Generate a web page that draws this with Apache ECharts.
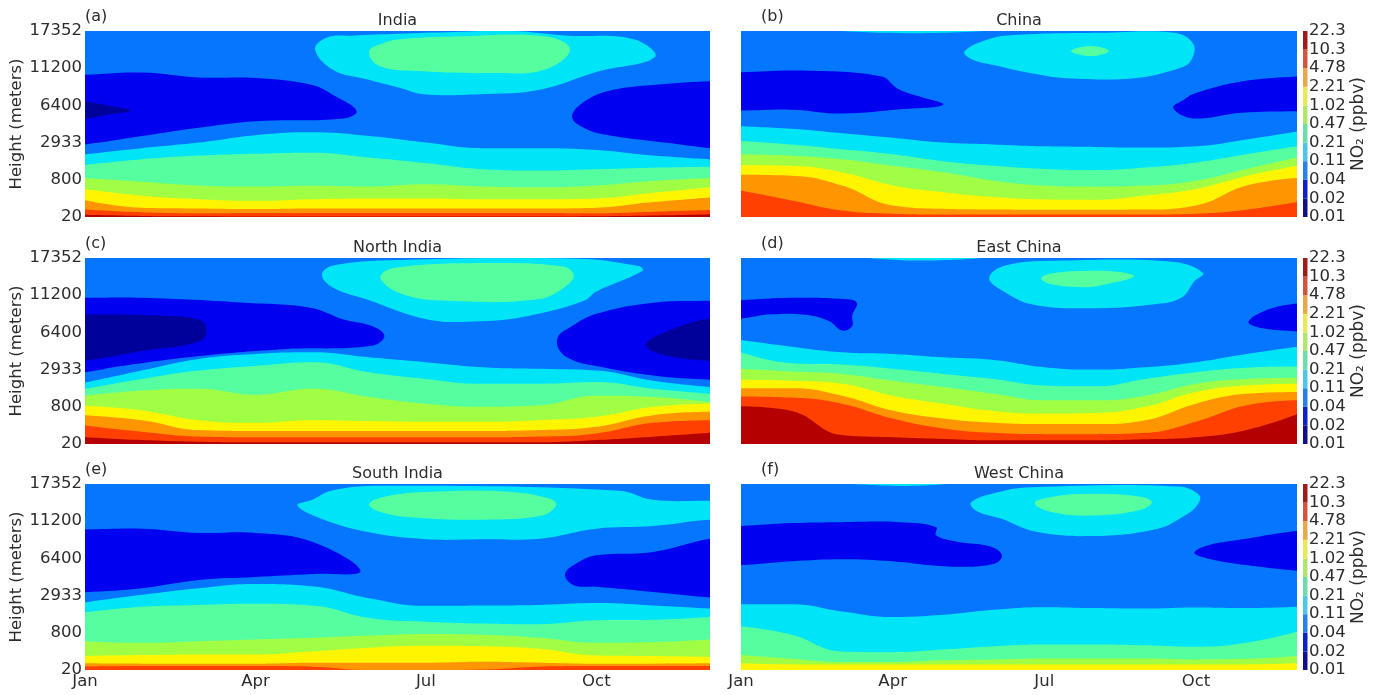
<!DOCTYPE html>
<html><head><meta charset="utf-8">
<style>html,body{margin:0;padding:0;background:#fff}#c{width:1381px;height:695px}</style>
<script src="https://cdn.jsdelivr.net/npm/echarts@6/dist/echarts.min.js"></script>
</head><body><div id="c"></div>
<script>
// NO2 level bands (ppbv): index 0 is the lowest band
const colorbarTicks=['0.01','0.02','0.04','0.11','0.21','0.47','1.02','2.21','4.78','10.3','22.3'];
const heightTicks=['20','800','2933','6400','11200','17352'];
const monthTicks=['Jan','Apr','Jul','Oct'];
const levelColors=['#00009a','#0000f0','#0476ff','#00e4f8','#55ffa0','#a0ff45','#fff500','#ff9500','#ff4000','#b40000'];
const barColors=['#10108c','#1020c8','#2a80e6','#4cc8e4','#6edcaa','#b4e470','#e8e85c','#e6a84c','#d25440','#a01c1c'];
const NAVY=0,DEEP=1,BLUE=2,CYAN=3,MINT=4,LIME=5,YELL=6,ORNG=7,RED=8,DARK=9;
// Band edges: [level, top of band at each month Jan..Dec], in percent of the level axis
const indiaBands=[
[CYAN,[33.7,37,40,44,45.5,43.5,40,37,37,36,33,31]],
[MINT,[28,31,33,34,34.6,32,29,25.7,25,25.7,26.5,27]],
[LIME,[21,19,17,16.4,16.8,16.4,17.6,16.4,16,17,19.4,21]],
[YELL,[15,11.4,9.6,8.7,9.6,10,10,9.6,9.6,10,13,16]],
[ORNG,[9,5,4.6,4.3,4.6,4.6,4.6,4.6,4.6,5,8,10.5]],
[RED,[4,2.5,2,2.2,2.2,2.2,2.2,2.2,2.2,2,2.8,3.7]],
[DARK,[1.2,.6,.4,.3,.3,.3,.3,.3,.3,.4,.8,1.5]]];
const chinaBands=[
[CYAN,[48.8,47.4,45,42.6,40,39,38,37.7,37.3,38,41.7,46]],
[MINT,[40.9,39,36.4,33.7,30,27.5,25.8,25.2,26.6,29.3,33.7,38]],
[LIME,[33.7,32.9,31,27.5,24,19.5,16.9,16.3,16.9,19.5,25.8,32]],
[YELL,[28,27.5,24,16.9,13.3,10.7,9.4,9.2,11.5,15,22,27.5]],
[ORNG,[22.7,22.2,16.9,6.2,4.4,4,3.9,3.9,4,6.2,16.9,21]],
[RED,[14.2,8.9,3.5,1.8,1.4,1.4,1.4,1.4,1.4,1.8,3.9,8]]];
const northIndiaBands=[
[CYAN,[33,39.5,45.7,48.4,49.3,46.6,44,41.3,40.4,39.5,34,30.6]],
[MINT,[29.7,35,39.5,42,44,38.6,35,32.4,32.4,33.3,29.7,27]],
[LIME,[26,28.8,29.7,26.5,29.7,25.3,21.7,20,20.8,26,25.3,22.6]],
[YELL,[20.5,18,12.8,11.4,12.8,12.3,11.9,11.9,12.8,14.6,20,21.7]],
[ORNG,[15.5,12.8,7.5,7,7,7,7,7,7.5,9.3,15.5,17.3]],
[RED,[10,6.6,4,3.6,3.6,3.6,3.6,3.6,4,5.7,11.4,12.8]],
[DARK,[3.6,2.1,1.2,.9,.9,.9,.9,.9,.9,2.1,3.9,6]]];
const eastChinaBands=[
[CYAN,[55.9,52.3,49.3,48.4,46.6,45.2,41.3,40,41.3,44,48.4,52.3]],
[MINT,[49.3,43.4,42.7,40.4,37.7,35,31.5,31,35,38.6,41,41.6]],
[LIME,[40.4,39,37.7,34,30.6,27,23.5,23.5,26,32.4,35,35.6]],
[YELL,[34.5,34,32.4,26,21.7,17.8,16.4,16.7,20,28,31.5,32.4]],
[ORNG,[30,30,26,18,13.7,11.4,10.7,10.7,12.8,21.7,27,28]],
[RED,[25.6,25,21.7,13.7,8.4,6,5.3,5.3,6,12,20.8,23.5]],
[DARK,[20.3,17.8,4.8,3.6,2.7,2,2,2,2.5,3.6,7.5,16]]];
const southIndiaBands=[
[CYAN,[36.3,40.4,44,46.3,45,38.6,34.5,34.7,35,36,34.7,33]],
[MINT,[31,34,35,35.6,34.7,28,26,25,24.6,26.7,27,28.5]],
[LIME,[15.5,14.6,15.5,16.4,17.3,18.5,19.4,19,17.3,14.6,15,16.4]],
[YELL,[7.5,8,8.4,8.4,10,12,13,12.8,11.4,7.8,7.5,7]],
[ORNG,[3.6,3.4,3.4,3.4,3.9,3.9,3.9,4.4,3.9,3.4,3.4,3.6]],
[RED,[1.8,2.1,2.1,2.1,1.8,0,0,.3,1.8,2.1,2.1,2.1]]];
const westChinaBands=[
[CYAN,[35.4,35.4,31.5,28.5,29.7,32.4,33.8,33.3,33,33.6,33.3,34]],
[MINT,[23.5,19,10,9.6,11,12.8,13.7,13.7,13.3,12.5,14.6,20.5]],
[LIME,[8,6,4.3,4.3,5.2,5.7,6.2,6.2,6.2,5.7,6,7.5]],
[YELL,[3.6,3,3,3,3,3,3,3,3,3,3,3.6]]];
// Closed contours: [level, [[month, percent], ...]]
const indiaBlobs=[
[DEEP,[[-.5,76.5],[0,76.5],[1,77.7],[2,75],[3,74.7],[4,71],[4.4,65],[4.78,57],[4.55,53],[3,51.5],[2,48],[1,43.5],[0,39],[-.5,38]]],
[NAVY,[[-.5,62],[0,62],[.4,60],[.8,57.2],[.4,55],[0,53],[-.5,53]]],
[DEEP,[[11.5,73],[11,73],[10,71],[9.3,68.4],[8.84,63],[8.57,54],[8.84,47],[9.3,43.5],[10.2,40],[11,37],[11.5,36]]],
[CYAN,[[4.25,96.4],[4.7,97.5],[5.5,98.5],[6.5,99.5],[7.5,100],[8.5,97.5],[9.66,95.6],[10.03,86],[9,78],[8,68.4],[6.95,66],[5.95,66],[5.55,69.3],[4.96,74],[4.37,79],[4.05,90]]],
[MINT,[[5,89],[5.25,93.4],[5.55,95.5],[6.5,97],[8.13,97],[8.54,89.8],[8.07,79],[7.25,77.4],[5.95,78.3],[5.19,81]]]];
const chinaBlobs=[
[DEEP,[[-.5,77.5],[0,77.8],[1.2,78.7],[2.78,75.5],[3.1,69],[3.5,65],[4,60.4],[3.2,58],[2,55.6],[1,57.7],[0,57.2],[-.5,57.2]]],
[DEEP,[[11.5,75.5],[11,75.5],[9.9,72.8],[9,66.6],[8.76,63],[8.55,58.6],[8.94,53],[9.9,56],[11,56.8],[11.5,56.8]]],
[CYAN,[[1.8,100.6],[2.8,99],[4,99],[5,100.6]]],
[CYAN,[[4.42,89],[4.88,95.4],[5.34,97.7],[7.1,99],[8.57,99],[8.95,93],[8.9,84],[8.67,80],[7.78,74.6],[6.46,74.6],[5.8,77],[5,81.7],[4.55,85]]],
[MINT,[[6.53,89.3],[6.92,92],[7.28,89.3],[6.92,86.5]]]];
const northIndiaBlobs=[
[DEEP,[[-.5,78.6],[0,78.6],[1,78.6],[2.8,76],[3.97,73.3],[4.55,67],[5.05,63.5],[5.27,58.2],[5.05,52.8],[3.5,51],[2.07,47.5],[.64,42],[0,38.6],[-.5,37]]],
[DEEP,[[11.5,77],[11,77],[10,76],[9,70],[8.53,62.6],[8.32,57.3],[8.36,50],[8.61,44.8],[9,42],[10,36.8],[11,34.5],[11.5,34]]],
[NAVY,[[-.5,69.7],[0,69.7],[1.36,68.9],[2,67],[2.13,62.6],[2.04,55.5],[1,50],[0,44.8],[-.5,44]]],
[NAVY,[[11.5,68],[11,67.6],[10.34,61.7],[9.87,53.7],[10.12,48.4],[11,44.5],[11.5,44]]],
[CYAN,[[4.17,91],[4.37,96],[5.67,99],[8.68,99.6],[9.76,95.5],[9.81,93],[9,82],[8.78,77],[7.82,69],[6.96,66],[6.03,67],[4.95,77.8],[4.37,84]]],
[MINT,[[5.2,89.3],[5.45,94.7],[7.1,97.3],[8.4,95.5],[8.6,91],[8.47,85],[7.97,77.8],[6.39,77],[5.6,80.4]]]];
const eastChinaBlobs=[
[DEEP,[[-.5,77.4],[0,77.4],[.97,78.6],[2.04,78],[2.29,76],[2.2,68.9],[2.2,63.5],[2,61],[1.75,66],[1.32,69.4],[.6,69.7],[0,67.4],[-.5,67]]],
[DEEP,[[11.5,76],[11,75.6],[10.44,72.4],[10.04,65.7],[10.3,62.3],[11,60.5],[11.5,60]]],
[CYAN,[[2.4,100.6],[3.2,98.8],[4.2,99],[4.9,100.6]]],
[CYAN,[[4.91,89.3],[5.23,96],[6.34,98.6],[8.57,97.9],[9.14,92],[8.97,87.5],[8.71,78.6],[8.14,75],[6.92,73],[5.77,75],[5.2,82]]],
[MINT,[[5.94,89],[6.13,91.6],[6.78,93],[7.49,92.5],[7.77,90],[7.2,85.8],[6.78,84.3],[6.13,86]]]];
const southIndiaBlobs=[
[DEEP,[[-.5,75.6],[0,75.6],[1,76],[2,73.7],[3,73.7],[4,69],[4.85,53.2],[4,51.6],[3,50],[2,48.4],[1,44],[0,41.8],[-.5,41]]],
[DEEP,[[11.5,71],[11,70.6],[10,63.5],[9,61.7],[8.69,58],[8.45,51.6],[8.6,45.6],[9,44.8],[10,42],[11,39],[11.5,38]]],
[CYAN,[[3.74,88.4],[4,91.5],[4.33,96.4],[5.2,99],[9.4,96.4],[10,91.5],[11,91],[11.5,91],[11.5,80],[11,80.8],[10,77.4],[9,76],[8,70.6],[7,70.3],[6,70.3],[5,74],[4.16,81.3]]],
[MINT,[[5,89.3],[5.37,93.8],[6.18,96],[7.4,96],[8.2,92],[8.29,88.4],[8.04,83],[7,80.8],[5.78,82],[5.2,85]]]];
const westChinaBlobs=[
[DEEP,[[-.5,77],[0,77.4],[1,79],[2,79.5],[3.13,79.5],[3.86,76.9],[3.86,72.4],[4.27,69],[4.92,66.5],[5.16,61.7],[5,57],[4.1,55.7],[3,58.5],[2,59.6],[1,58.5],[0,56.4],[-.5,56]]],
[DEEP,[[11.5,75],[11,74.7],[10,70.6],[9.23,67],[8.97,63],[9.23,60],[10,56.4],[11,53.4],[11.5,53]]],
[CYAN,[[2,100.6],[2.8,99.2],[3.6,99.2],[4.2,100.6]]],
[CYAN,[[4.55,90],[5.08,95.5],[5.73,98.2],[8.66,98.6],[9.07,93.8],[9.02,88.4],[8.78,83],[8.25,76],[6.95,72],[5.82,74.4],[5.16,81.3],[4.67,85.4]]],
[MINT,[[5.81,89.7],[6.14,93],[6.95,94.7],[7.93,93],[8.13,90],[7.89,86],[6.95,83],[6.14,85]]]];
const panelNames=['India','China','North India','East China','South India','West China'];
const panelTags=['(a)','(b)','(c)','(d)','(e)','(f)'];
const panelBands=[indiaBands,chinaBands,northIndiaBands,eastChinaBands,southIndiaBands,westChinaBands];
const panelBlobs=[indiaBlobs,chinaBlobs,northIndiaBlobs,eastChinaBlobs,southIndiaBlobs,westChinaBlobs];

const months=[0,1,2,3,4,5,6,7,8,9,10,11];
const rowTop=[31,258,484], rowH=186;
const font='"DejaVu Sans"', ink='#2c2c2c';
const grids=[],xAxes=[],yAxes=[],series=[],titles=[];

panelNames.forEach((name,i)=>{
  const col=i%2,row=(i-col)/2;
  const left=col?741:85,width=col?556:625;
  grids.push({left,top:rowTop[row],width,height:rowH,show:false});
  xAxes.push({type:'value',gridIndex:i,min:0,max:11,interval:3,splitLine:{show:false},axisTick:{show:false},
    axisLine:{show:false},
    axisLabel:{show:row===2,color:ink,fontFamily:font,fontSize:16.5,margin:3,hideOverlap:false,
      showMinLabel:true,showMaxLabel:false,formatter:v=>monthTicks[v/3]||''}});
  yAxes.push({type:'value',gridIndex:i,min:0,max:100,interval:20,splitLine:{show:false},axisTick:{show:false},axisLine:{show:false},
    name:col?'':'Height (meters)',nameLocation:'middle',nameGap:56,
    nameTextStyle:{color:ink,fontFamily:font,fontSize:16.5},
    axisLabel:{show:!col,color:ink,fontFamily:font,fontSize:16.5,margin:3,padding:[3,0,0,0],formatter:v=>heightTicks[v/20]}});
  const base={xAxisIndex:i,yAxisIndex:i,silent:true,animation:false};
  let z=2;
  const band=(lv,vals)=>({...base,z:z++,type:'line',smooth:.45,showSymbol:false,symbol:'none',
    lineStyle:{width:0},areaStyle:{color:levelColors[lv],opacity:1,origin:'start'},
    data:months.map((m,k)=>[m,vals[k]])});
  // base field, closed contours, then the near-surface bands on top
  series.push(band(BLUE,months.map(()=>100)));
  panelBlobs[i].forEach(([lv,pts])=>series.push({...base,z:z++,type:'custom',clip:true,data:pts,
    renderItem:(p,api)=>p.dataIndex?null:{type:'polygon',
      shape:{points:pts.map(q=>api.coord(q)),smooth:.4},style:{fill:levelColors[lv]}}}));
  panelBands[i].forEach(([lv,vals])=>series.push(band(lv,vals)));
  titles.push({text:name,left:left+width/2,top:rowTop[row]-19,textAlign:'center',padding:0,
    textStyle:{color:ink,fontFamily:font,fontSize:16,fontWeight:'normal',lineHeight:18}});
  titles.push({text:panelTags[i],left:col?761:85,top:rowTop[row]-23,padding:0,
    textStyle:{color:ink,fontFamily:font,fontSize:16,fontWeight:'normal',lineHeight:18}});
});
rowTop.forEach((top,r)=>{
  const g=grids.length;
  grids.push({left:1303,top,width:4.5,height:rowH,show:false});
  xAxes.push({type:'value',gridIndex:g,min:0,max:1,show:false});
  yAxes.push({type:'value',gridIndex:g,min:0,max:10,interval:1,position:'right',splitLine:{show:false},axisTick:{show:false},axisLine:{show:false},
    name:'NO₂ (ppbv)',nameLocation:'middle',nameRotate:90,nameGap:42,
    nameTextStyle:{color:ink,fontFamily:font,fontSize:17},
    axisLabel:{color:ink,fontFamily:font,fontSize:16.5,margin:1.5,padding:[3,0,0,0],formatter:v=>colorbarTicks[v]}});
  series.push({type:'custom',xAxisIndex:g,yAxisIndex:g,silent:true,animation:false,
    data:barColors.map((c,k)=>[k,k+1]),
    renderItem:(p,api)=>{
      const a=api.coord([0,api.value(1)]),b=api.coord([1,api.value(0)]);
      return {type:'rect',shape:{x:a[0],y:a[1],width:b[0]-a[0],height:b[1]-a[1]},style:{fill:barColors[p.dataIndex]}};
    }});
});
const chart=echarts.init(document.getElementById('c'),null,{renderer:'canvas'});
chart.setOption({animation:false,backgroundColor:'#fff',title:titles,grid:grids,xAxis:xAxes,yAxis:yAxes,series});
</script></body></html>
